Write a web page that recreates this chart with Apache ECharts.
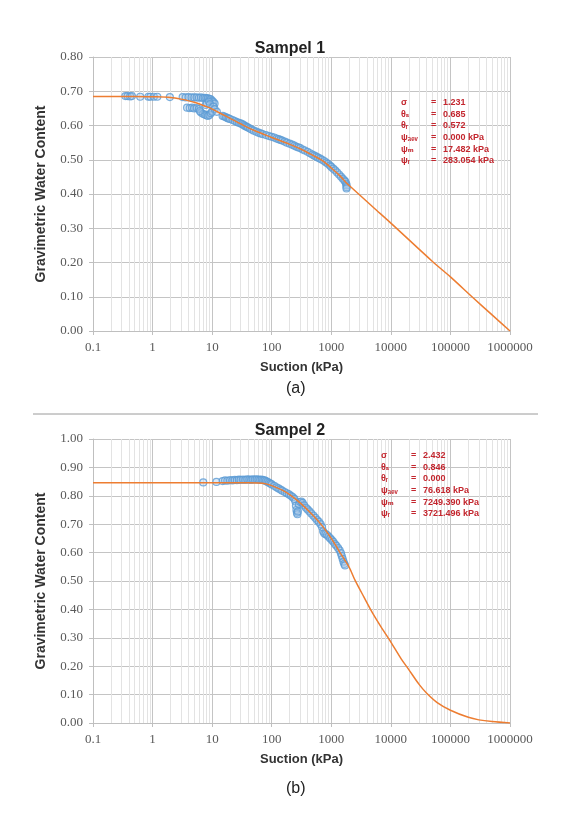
<!DOCTYPE html>
<html>
<head>
<meta charset="utf-8">
<script src="https://cdn.jsdelivr.net/npm/echarts@6/dist/echarts.min.js"></script>
<style>
  html, body { margin: 0; padding: 0; background: #fff; }
  #chart { width: 573px; height: 816px; }
</style>
</head>
<body>
<div id="chart"></div>
<script>
// ---- Sampel 1 : measured points (suction kPa, water content) ----
var suction1 = [0.35, 0.38, 0.42, 0.45, 0.62, 0.85, 0.92, 1.05, 1.2, 1.95,
  3.2, 3.6, 4.0, 4.5, 5.0, 5.5, 6.0, 6.5, 7.0, 7.5, 8.0, 8.5, 9.0, 9.5, 10, 10.5, 11,
  3.8, 4.2, 4.6, 5.0, 5.5, 6.0, 6.5, 7.0, 7.5, 8.0, 8.5, 9.0, 9.5, 10, 7.8, 8.2, 8.8, 9.2, 10.5, 11, 6.2, 12,
  15, 16, 17, 18, 19, 20, 22, 24, 26, 28, 30, 32, 34, 36, 38, 40, 43, 46, 50, 55, 60, 65, 70, 80, 90,
  100, 110, 120, 130, 140, 150, 165, 180, 200, 220, 240, 260, 280, 300, 330, 360, 400, 440, 480, 520,
  560, 600, 650, 700, 760, 820, 880, 950, 1000, 1080, 1160, 1250, 1350, 1450, 1550, 1650, 1720, 1780,
  1800, 1810, 1800];
var water1 = [0.686, 0.686, 0.685, 0.686, 0.684, 0.684, 0.684, 0.684, 0.684, 0.683,
  0.683, 0.682, 0.683, 0.682, 0.682, 0.682, 0.681, 0.682, 0.680, 0.681, 0.680, 0.679, 0.678, 0.676, 0.672, 0.668, 0.664,
  0.652, 0.651, 0.652, 0.650, 0.651, 0.648, 0.638, 0.634, 0.632, 0.630, 0.628, 0.631, 0.636, 0.640, 0.660, 0.665, 0.670, 0.662, 0.655, 0.648, 0.642, 0.640,
  0.628, 0.626, 0.624, 0.622, 0.620, 0.619, 0.616, 0.613, 0.610, 0.608, 0.606, 0.604, 0.601, 0.598, 0.596, 0.594, 0.591, 0.588, 0.585, 0.582, 0.579, 0.577, 0.575, 0.572, 0.569,
  0.567, 0.565, 0.562, 0.560, 0.558, 0.556, 0.553, 0.550, 0.547, 0.544, 0.541, 0.538, 0.536, 0.534, 0.530, 0.527, 0.523, 0.519, 0.515, 0.512,
  0.509, 0.506, 0.503, 0.500, 0.496, 0.492, 0.488, 0.483, 0.479, 0.474, 0.469, 0.463, 0.457, 0.451, 0.445, 0.440, 0.436, 0.430,
  0.425, 0.420, 0.416];

// ---- Sampel 1 : fitted curve ----
var fitSuction1 = [0.1, 0.5, 1, 2, 3, 5, 8, 10, 15, 20, 30, 50, 70, 100, 200, 300, 500, 700, 1000, 1400, 1800, 2000,
  5000, 10000, 50000, 100000, 240000, 500000, 1000000];
var fitWater1 = [0.685, 0.685, 0.684, 0.682, 0.677, 0.668, 0.655, 0.648, 0.632, 0.621, 0.605, 0.586, 0.576, 0.565,
  0.545, 0.532, 0.512, 0.498, 0.476, 0.453, 0.432, 0.425, 0.362, 0.315, 0.203, 0.158, 0.097, 0.047, 0];

// ---- Sampel 2 : measured points ----
var suction2 = [7.1, 11.8, 15, 16.5, 18, 20, 22, 24, 26, 28, 30, 33, 36, 39, 42, 45, 48, 52, 56, 60, 64, 68, 72, 76,
  80, 85, 90, 95, 100, 110, 120, 130, 140, 150, 165, 180, 195, 210, 225, 240, 250, 255, 260, 265, 270, 275, 285,
  300, 315, 330, 350, 375, 400, 430, 460, 500, 540, 580, 620, 660, 700, 730, 760, 800, 850, 900, 960, 1020, 1080,
  1150, 1220, 1300, 1380, 1450, 1500, 1550, 1600, 1650, 1700];
var water2 = [0.847, 0.849, 0.852, 0.854, 0.853, 0.855, 0.854, 0.856, 0.855, 0.857, 0.856, 0.857, 0.856, 0.858, 0.857,
  0.856, 0.858, 0.857, 0.858, 0.857, 0.856, 0.857, 0.855, 0.854, 0.852, 0.849, 0.846, 0.843, 0.840, 0.835, 0.830,
  0.826, 0.822, 0.818, 0.813, 0.809, 0.805, 0.800, 0.795, 0.789, 0.780, 0.765, 0.750, 0.740, 0.735, 0.745, 0.770,
  0.778, 0.780, 0.775, 0.766, 0.758, 0.752, 0.745, 0.738, 0.730, 0.722, 0.714, 0.708, 0.700, 0.690, 0.675, 0.668,
  0.665, 0.662, 0.656, 0.650, 0.644, 0.638, 0.630, 0.624, 0.616, 0.608, 0.598, 0.588, 0.578, 0.568, 0.560, 0.555];

// ---- Sampel 2 : fitted curve ----
var fitSuction2 = [0.1, 1, 10, 40, 60, 80, 100, 150, 200, 300, 500, 700, 1000, 1500, 2000, 2500, 3500, 5000, 7000,
  10000, 15000, 20000, 30000, 40000, 60000, 100000, 200000, 300000, 500000, 1000000];
var fitWater2 = [0.846, 0.846, 0.846, 0.846, 0.845, 0.842, 0.836, 0.820, 0.804, 0.775, 0.730, 0.695, 0.650, 0.590,
  0.548, 0.503, 0.445, 0.385, 0.335, 0.285, 0.225, 0.188, 0.135, 0.105, 0.072, 0.045, 0.020, 0.011, 0.005, 0];

// ---- parameter boxes ----
var paramSymbols = ['σ', 'θₛ', 'θᵣ', 'ψₐₑᵥ', 'ψₘ', 'ψᵣ'];
var paramValues1 = ['1.231', '0.685', '0.572', '0.000 kPa', '17.482 kPa', '283.054 kPa'];
var paramValues2 = ['2.432', '0.846', '0.000', '76.618 kPa', '7249.390 kPa', '3721.496 kPa'];

var titles = ['Sampel 1', 'Sampel 2'];
var captions = ['(a)', '(b)'];
var yMax = [0.8, 1.0];

function pairs(xs, ys) {
  return xs.map(function (x, i) { return [x, ys[i]]; });
}

// minor log gridlines 2..9 in each decade
var minorLines = [];
for (var e = -1; e < 6; e++) {
  for (var k = 2; k <= 9; k++) {
    minorLines.push({ xAxis: Number((k * Math.pow(10, e)).toPrecision(3)) });
  }
}

var red = '#c3262e';
var grids = [
  { left: 93, top: 57, width: 417, height: 274 },
  { left: 93, top: 439, width: 417, height: 284 }
];

var xAxes = [], yAxes = [], series = [];
[0, 1].forEach(function (i) {
  xAxes.push({
    type: 'log', logBase: 10, gridIndex: i, min: 0.1, max: 1000000,
    name: 'Suction (kPa)', nameLocation: 'middle', nameGap: 30,
    nameTextStyle: { fontFamily: 'Liberation Sans', fontWeight: 'bold', fontSize: 13, color: '#333' },
    axisLine: { lineStyle: { color: '#bfbfbf' } },
    axisTick: { show: true, length: 4, lineStyle: { color: '#bfbfbf' } },
    axisLabel: {
      margin: 10, fontFamily: 'Liberation Serif', fontSize: 13, color: '#595959',
      formatter: function (v) { return String(Number(v.toPrecision(6))); }
    },
    splitLine: { show: true, lineStyle: { color: '#c4c4c4', width: 1 } }
  });
  yAxes.push({
    type: 'value', gridIndex: i, min: 0, max: yMax[i], interval: 0.1,
    name: 'Gravimetric Water Content', nameLocation: 'middle', nameGap: 45, nameRotate: 90,
    nameTextStyle: { fontFamily: 'Liberation Sans', fontWeight: 'bold', fontSize: 14, color: '#333' },
    axisLine: { show: true, lineStyle: { color: '#bfbfbf' } },
    axisTick: { show: true, length: 4, lineStyle: { color: '#bfbfbf' } },
    axisLabel: {
      margin: 10, fontFamily: 'Liberation Serif', fontSize: 13, color: '#595959',
      formatter: function (v) { return v.toFixed(2); }
    },
    splitLine: { show: true, lineStyle: { color: '#c4c4c4', width: 1 } }
  });
  // minor vertical gridlines
  series.push({
    type: 'scatter', xAxisIndex: i, yAxisIndex: i, data: [], z: 1, silent: true,
    markLine: {
      silent: true, z: 1, symbol: ['none', 'none'], label: { show: false },
      lineStyle: { color: '#e3e3e3', type: 'solid', width: 1 },
      emphasis: { disabled: true },
      data: minorLines
    }
  });
});

var pointStyle = { color: 'rgba(157,195,230,0.45)', borderColor: '#5b9bd5', borderWidth: 1.2 };
series.push({
  type: 'scatter', xAxisIndex: 0, yAxisIndex: 0, z: 2,
  data: pairs(suction1, water1), symbol: 'circle', symbolSize: 7, itemStyle: pointStyle
});
series.push({
  type: 'line', xAxisIndex: 0, yAxisIndex: 0, z: 3,
  data: pairs(fitSuction1, fitWater1), smooth: 0.3, showSymbol: false,
  lineStyle: { color: '#ed7d31', width: 1.5 }
});
series.push({
  type: 'scatter', xAxisIndex: 1, yAxisIndex: 1, z: 2,
  data: pairs(suction2, water2), symbol: 'circle', symbolSize: 7, itemStyle: pointStyle
});
series.push({
  type: 'line', xAxisIndex: 1, yAxisIndex: 1, z: 3,
  data: pairs(fitSuction2, fitWater2), smooth: 0.3, showSymbol: false,
  lineStyle: { color: '#ed7d31', width: 1.5 }
});

function paramBlock(x, top, values) {
  var font = 'bold 9px "Liberation Sans", "DejaVu Sans"';
  function st(text) { return { text: text, font: font, fill: red, lineHeight: 11.6 }; }
  return [
    { type: 'text', z: 100, left: x, top: top, style: st(paramSymbols.join('\n')) },
    { type: 'text', z: 100, left: x + 30, top: top, style: st(paramSymbols.map(function () { return '='; }).join('\n')) },
    { type: 'text', z: 100, left: x + 42, top: top, style: st(values.join('\n')) }
  ];
}

var graphics = []
  .concat(paramBlock(401, 97, paramValues1))
  .concat(paramBlock(381, 450, paramValues2))
  .concat([
    { type: 'text', z: 100, left: 286, top: 381, style: { text: captions[0], font: '16px "Liberation Sans"', fill: '#222', align: 'center' } },
    { type: 'text', z: 100, left: 286, top: 781, style: { text: captions[1], font: '16px "Liberation Sans"', fill: '#222', align: 'center' } },
    { type: 'line', z: 100, shape: { x1: 33, y1: 414, x2: 538, y2: 414 }, style: { stroke: '#9a9a9a', lineWidth: 1 } }
  ]);

var chart = echarts.init(document.getElementById('chart'));
chart.setOption({
  animation: false,
  backgroundColor: '#fff',
  title: [
    { text: titles[0], left: 285, top: 36, textAlign: 'center',
      textStyle: { fontFamily: 'Liberation Sans', fontWeight: 'bold', fontSize: 16, color: '#222' } },
    { text: titles[1], left: 285, top: 418, textAlign: 'center',
      textStyle: { fontFamily: 'Liberation Sans', fontWeight: 'bold', fontSize: 16, color: '#222' } }
  ],
  grid: grids,
  xAxis: xAxes,
  yAxis: yAxes,
  series: series,
  graphic: graphics
});
</script>
</body>
</html>
